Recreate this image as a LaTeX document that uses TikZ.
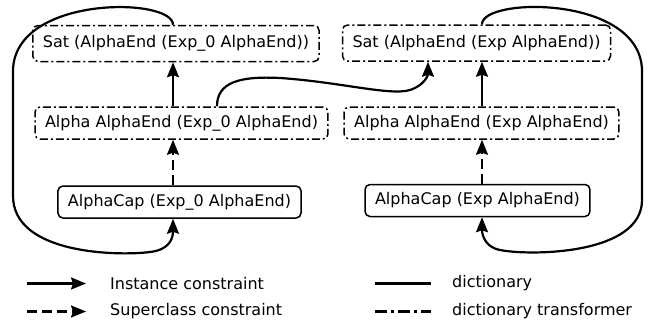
\documentclass[tikz,border=0pt]{standalone}
\usepackage{fontspec}
\setmainfont{DejaVu Sans}
\usetikzlibrary{positioning,arrows.meta,calc}
\tikzset{
  node-dict/.style={draw,rounded corners=5pt,line width=1.5pt,
    inner xsep=10pt,inner ysep=0pt,minimum height=32pt,
    font=\fontsize{16}{18}\selectfont},
  node-trans/.style={node-dict,dash pattern=on 8pt off 3pt on 2pt off 3pt},
  arrow-inst/.style={-{Stealth[length=15pt,width=12pt,inset=2pt]},line width=2.2pt},
  arrow-super/.style={arrow-inst,dash pattern=on 10pt off 5pt},
  line-dict/.style={line width=2.2pt},
  line-trans/.style={line width=2.2pt,dash pattern=on 12pt off 4pt on 3pt off 4pt},
  legend-text/.style={anchor=west,inner sep=0pt,font=\fontsize{16}{18}\selectfont},
}

\begin{document}
\begin{tikzpicture}[x=1pt,y=-1pt]
  \useasboundingbox (0,0) rectangle (651,332);
  % left column: Exp_0
  \node[node-trans,minimum height=36pt] (sat0)   at (176,43.5) {Sat (AlphaEnd (Exp\_0 AlphaEnd))};
  \node[node-trans]                     (alpha0) at (181.5,123) {Alpha AlphaEnd (Exp\_0 AlphaEnd)};
  \node[node-dict]                      (cap0)   at (179.5,202) {AlphaCap (Exp\_0 AlphaEnd)};
  % right column: Exp
  \node[node-trans,minimum height=36pt] (sat1)   at (476.5,43) {Sat (AlphaEnd (Exp AlphaEnd))};
  \node[node-trans]                     (alpha1) at (481.5,123) {Alpha AlphaEnd (Exp AlphaEnd)};
  \node[node-dict]                      (cap1)   at (477.5,200.5) {AlphaCap (Exp AlphaEnd)};

  \draw[arrow-inst]  ([xshift=-8.5pt]alpha0.north) -- ([xshift=-3pt]sat0.south);
  \draw[arrow-super] ([xshift=-6.5pt]cap0.north) -- ([xshift=-8.5pt]alpha0.south);
  \draw[arrow-inst]  ([xshift=0.5pt]alpha1.north) -- ([xshift=5.5pt]sat1.south);
  \draw[arrow-super] ([xshift=4.5pt]cap1.north) -- ([xshift=0.5pt]alpha1.south);

  % loops and cross link
  \draw[arrow-inst] ([xshift=-3pt]sat0.north) .. controls (173,-3) and (15,-5) .. (13,70)
    -- (13,195) .. controls (12,255) and (120,256) .. (150,252)
    .. controls (168,250) and (173,240) .. ([xshift=-6.5pt]cap0.south);
  \draw[arrow-inst] ([xshift=5.5pt]sat1.north) .. controls (482,-3) and (640,-5) .. (642,70)
    -- (642,200) .. controls (642,255) and (530,256) .. (500,250)
    .. controls (485,247) and (482,235) .. ([xshift=4.5pt]cap1.south);
  \draw[arrow-inst] ([xshift=35.5pt]alpha0.north) .. controls (217,82) and (240,76) .. (280,78)
    .. controls (340,82) and (390,96) .. (410,90)
    .. controls (425,85) and (428,75) .. ([xshift=-48.5pt]sat1.south);

  % legend
  \coordinate (lg-inst-a)  at (27,283.5);  \coordinate (lg-inst-b)  at (86,283.5);
  \coordinate (lg-super-a) at (27,311.5);  \coordinate (lg-super-b) at (86,311.5);
  \coordinate (lg-dict-a)  at (375,283.5); \coordinate (lg-dict-b)  at (431,283.5);
  \coordinate (lg-trans-a) at (375,311.5); \coordinate (lg-trans-b) at (431,311.5);
  \draw[arrow-inst]  (lg-inst-a) -- (lg-inst-b);
  \draw[arrow-super] (lg-super-a) -- (lg-super-b);
  \draw[line-dict]   (lg-dict-a) -- (lg-dict-b);
  \draw[line-trans]  (lg-trans-a) -- (lg-trans-b);
  \node[legend-text] (lg-inst)  at (110,283.5) {Instance constraint};
  \node[legend-text] (lg-super) at (110,311.5) {Superclass constraint};
  \node[legend-text] (lg-dict)  at (452,283.5) {dictionary};
  \node[legend-text] (lg-trans) at (452,311.5) {dictionary transformer};
\end{tikzpicture}
\end{document}
